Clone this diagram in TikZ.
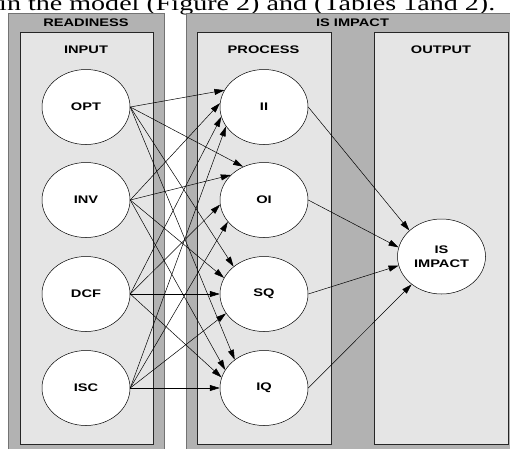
\documentclass[tikz,border=0pt]{standalone}
\usepackage{fontspec}
\setmainfont{Liberation Serif}
\setsansfont{Liberation Sans}
\usetikzlibrary{arrows.meta,shapes.geometric}
\definecolor{panelouter}{RGB}{178,178,178}
\definecolor{panelinner}{RGB}{229,229,229}
\newcommand{\widetxt}[1]{\scalebox{1.33}[1]{#1}}
\tikzset{
	outerpanel/.style={fill=panelouter, draw=black!55, line width=0.8pt},
	innerpanel/.style={fill=panelinner, draw=black!85, line width=0.6pt},
	var/.style={ellipse, draw, fill=white, line width=0.5pt, minimum width=88pt, minimum height=75pt, inner sep=0pt, align=center, font=\sffamily\bfseries\fontsize{11}{14}\selectfont},
	paneltitle/.style={inner sep=0pt, font=\sffamily\bfseries\fontsize{11}{13}\selectfont},
	link/.style={-{Triangle[length=10pt,width=6pt]}, line width=0.5pt}
}
\begin{document}
\begin{tikzpicture}[x=1pt,y=-1pt]
		\useasboundingbox (0,0) rectangle (510,448);
		% line of the running text, cut by the top edge
		\node[anchor=base west, inner sep=0pt, font=\fontsize{21}{24}\selectfont] (caption) at (-1,10)
			{\resizebox{496pt}{\height}{in the model (Figure 2) and (Tables 1and 2).}};
		% Draw the grey panels
		\draw[outerpanel] (8,13) rectangle (164,460);
		\draw[outerpanel] (186,13) rectangle (520,460);
		\draw[innerpanel] (20,32) rectangle (153,444);
		\draw[innerpanel] (197,32) rectangle (331,444);
		\draw[innerpanel] (374,32) rectangle (508,444);
		% Panel titles
		\node[paneltitle] (readiness) at (86,23) {\widetxt{READINESS}};
		\node[paneltitle] (input) at (86,49.5) {\widetxt{INPUT}};
		\node[paneltitle] (isimpact) at (352.5,23) {\widetxt{IS IMPACT}};
		\node[paneltitle] (process) at (263.5,49.5) {\widetxt{PROCESS}};
		\node[paneltitle] (output) at (441,49.5) {\widetxt{OUTPUT}};
		% Input and process variables
		\foreach \name/\txt/\y in {opt/OPT/107, inv/INV/200, dcf/DCF/294, isc/ISC/388} {
			\node[var] (\name) at (86,\y) {\widetxt{\txt}};
		}
		\foreach \name/\txt/\y in {ii/II/107, oi/OI/200, sq/SQ/294, iq/IQ/388} {
			\node[var] (\name) at (264,\y) {\widetxt{\txt}};
		}
		\node[var] (impact) at (441.5,256.5) {\widetxt{IS}\\\widetxt{IMPACT}};
		% Every input points to every process variable (end angle on the target)
		\foreach \src/\dst/\ang in {opt/ii/157, inv/ii/175, dcf/ii/193, isc/ii/207,
				opt/oi/122, inv/oi/143, dcf/oi/186, isc/oi/211,
				opt/sq/138, inv/sq/158, dcf/sq/180, isc/sq/207,
				opt/iq/136, inv/iq/155, dcf/iq/166, isc/iq/180} {
			\draw[link] (\src.east) -- (\dst.\ang);
		}
		\foreach \src/\ang in {ii/141, oi/168, sq/192, iq/223} {
			\draw[link] (\src.east) -- (impact.\ang);
		}
\end{tikzpicture}
\end{document}
